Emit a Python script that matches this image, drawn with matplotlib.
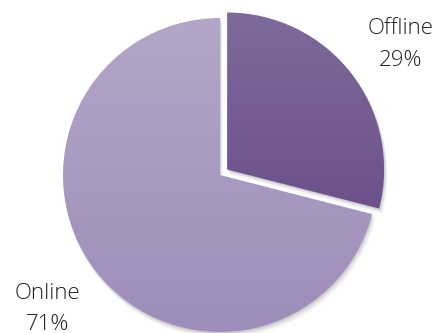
import numpy as np
import matplotlib
matplotlib.use('Agg')
import matplotlib.pyplot as plt
from matplotlib.patches import Wedge

etiquetas = ['Offline', 'Online']
valores = [29, 71]
colores_arriba = ['#7e6a9b', '#b3a6c7']
colores_abajo = ['#614282', '#9e8dba']

fig = plt.figure(figsize=(4.41, 3.33), dpi=100)
ax = fig.add_axes([0, 0, 1, 1])

centro = (220, 158)
radio = 157

wedges, _ = ax.pie(valores, startangle=90, counterclock=False,
                   explode=[9, 0], center=centro, radius=radio, frame=True)

# sombra suave
for w in wedges:
    for d, a in [(5, 0.04), (4, 0.05), (3, 0.06), (2, 0.08), (1, 0.1)]:
        s = Wedge((w.center[0] + d * 0.5, w.center[1] - d), w.r + d * 0.2, w.theta1, w.theta2,
                  facecolor='#555555', edgecolor='none', alpha=a, zorder=0)
        ax.add_patch(s)

# degradado vertical dentro de cada porcion
for w, c1, c2 in zip(wedges, colores_arriba, colores_abajo):
    w.set_facecolor('none')
    w.set_edgecolor('none')
    a = np.array(matplotlib.colors.to_rgb(c1))
    b = np.array(matplotlib.colors.to_rgb(c2))
    t = np.linspace(0, 1, 256)[:, None]
    grad = (a * (1 - t) + b * t)[:, None, :]
    x0, y0 = w.center
    img = ax.imshow(grad, extent=[x0 - w.r, x0 + w.r, y0 - w.r, y0 + w.r],
                    origin='upper', aspect='auto', zorder=1)
    img.set_clip_path(w)

# etiquetas fuera de la torta
dist = [1.42, 1.39]
ajuste_ang = [-2, 0]
for w, e, v, dd, aa in zip(wedges, etiquetas, valores, dist, ajuste_ang):
    ang = np.deg2rad((w.theta1 + w.theta2) / 2 + aa)
    x = centro[0] + dd * radio * np.cos(ang)
    y = centro[1] + dd * radio * np.sin(ang)
    ax.text(x, y, e + '\n' + str(v) + '%', ha='center', va='center',
            fontsize=16, family='Open Sans', fontweight='light',
            color='#222222', linespacing=1.65, zorder=3)

ax.set_xlim(0, 441)
ax.set_ylim(0, 333)
ax.set_aspect('equal')
ax.axis('off')
plt.savefig('out.png', dpi=100)
